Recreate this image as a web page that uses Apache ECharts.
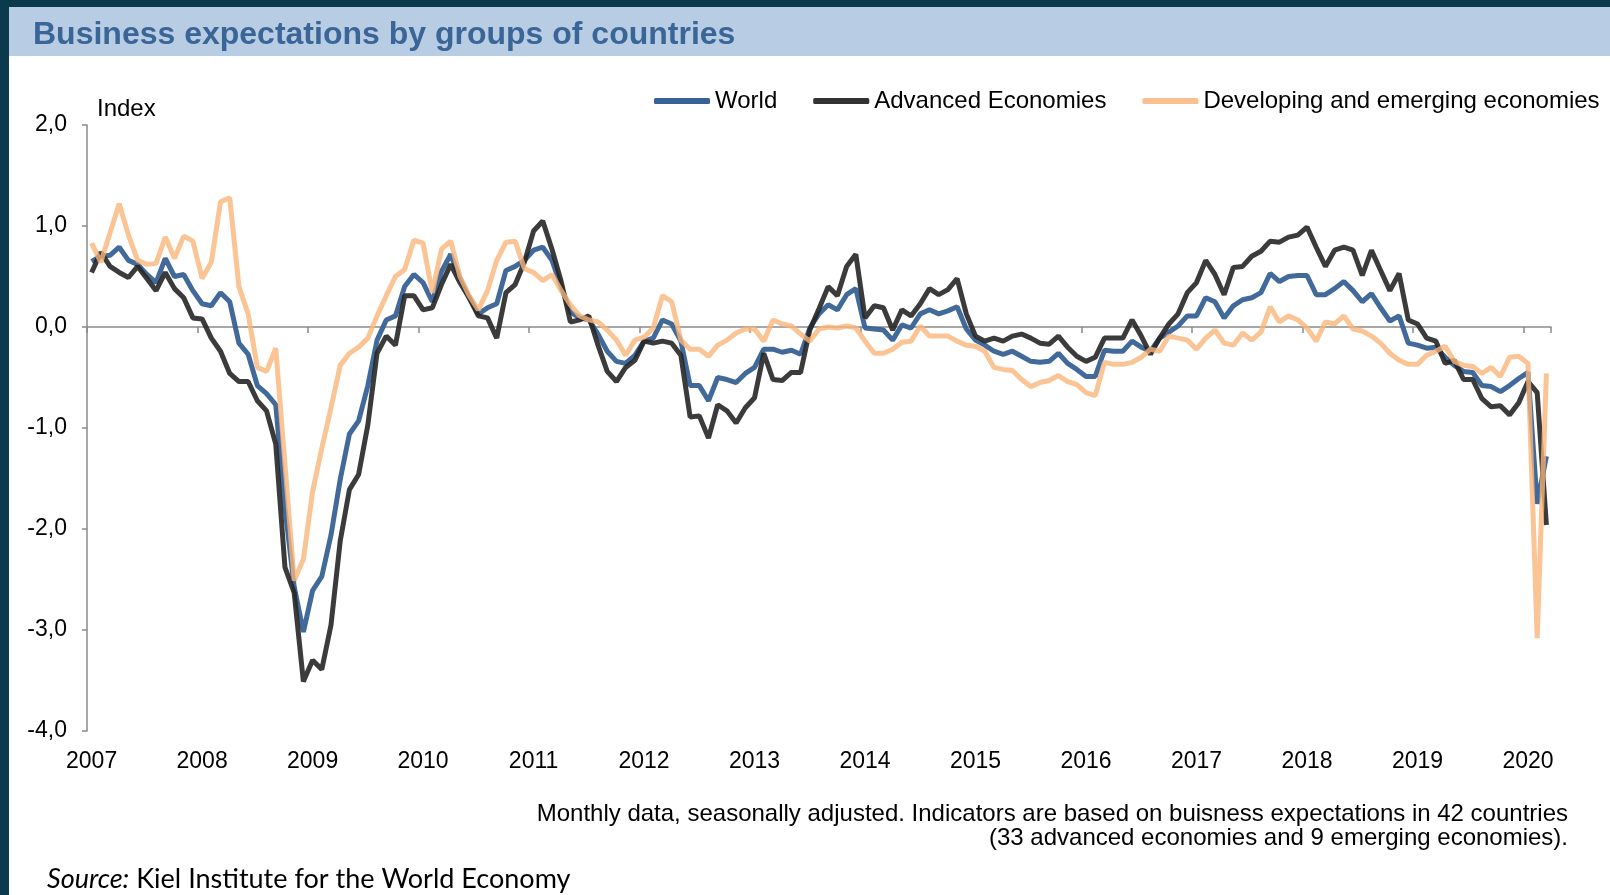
<!DOCTYPE html>
<html lang="en">

<head>
  <meta charset="utf-8">
  <title>Business expectations by groups of countries</title>
  <script src="https://cdn.jsdelivr.net/npm/echarts@6/dist/echarts.min.js"></script>
  <style>
    html, body {
      margin: 0;
      padding: 0;
      background: #fff;
    }

    #main {
      width: 1610px;
      height: 895px;
    }
  </style>
</head>

<body>
  <div id="main"></div>

  <script>
    // monthly categories, Jan 2007 .. Mar 2020
    var months = [];
    for (var y = 2007; y <= 2020; y++) {
      for (var m = 1; m <= 12; m++) {
        if (y === 2020 && m > 3) break;
        months.push(y + '-' + (m < 10 ? '0' + m : m));
      }
    }

    var yTicks = [-4, -3, -2, -1, 0, 1, 2];

    var world = [
      0.65, 0.70, 0.71, 0.79, 0.66, 0.62, 0.52, 0.44, 0.68, 0.50, 0.52, 0.36,
      0.23, 0.21, 0.34, 0.25, -0.16, -0.27, -0.58, -0.66, -0.77, -1.79, -2.57, -3.02,
      -2.61, -2.47, -2.06, -1.51, -1.06, -0.93, -0.58, -0.13, 0.07, 0.11, 0.40, 0.52,
      0.44, 0.25, 0.55, 0.72, 0.48, 0.29, 0.13, 0.19, 0.23, 0.56, 0.60, 0.66,
      0.76, 0.79, 0.66, 0.40, 0.15, 0.09, 0.07, -0.07, -0.24, -0.34, -0.36, -0.28,
      -0.14, -0.11, 0.07, 0.03, -0.14, -0.58, -0.58, -0.73, -0.50, -0.52, -0.55, -0.46,
      -0.40, -0.22, -0.22, -0.25, -0.23, -0.27, -0.01, 0.13, 0.22, 0.17, 0.32, 0.38,
      -0.01, -0.02, -0.03, -0.13, 0.02, -0.01, 0.13, 0.17, 0.13, 0.16, 0.20, -0.02,
      -0.13, -0.18, -0.24, -0.27, -0.24, -0.29, -0.34, -0.35, -0.34, -0.26, -0.36, -0.42,
      -0.49, -0.49, -0.23, -0.24, -0.24, -0.14, -0.20, -0.24, -0.11, -0.05, 0.01, 0.11,
      0.11, 0.29, 0.25, 0.09, 0.21, 0.27, 0.29, 0.34, 0.53, 0.45, 0.50, 0.51,
      0.51, 0.32, 0.32, 0.38, 0.45, 0.36, 0.25, 0.33, 0.19, 0.06, 0.11, -0.16,
      -0.18, -0.21, -0.20, -0.30, -0.38, -0.44, -0.45, -0.58, -0.59, -0.64, -0.58, -0.51,
      -0.45, -1.75, -1.28
    ];

    var advanced = [
      0.54, 0.74, 0.60, 0.54, 0.49, 0.60, 0.48, 0.36, 0.54, 0.38, 0.29, 0.09,
      0.08, -0.11, -0.24, -0.46, -0.54, -0.54, -0.73, -0.83, -1.16, -2.38, -2.63, -3.51,
      -3.30, -3.39, -2.95, -2.12, -1.61, -1.46, -0.97, -0.26, -0.09, -0.18, 0.31, 0.31,
      0.17, 0.19, 0.42, 0.62, 0.44, 0.29, 0.11, 0.09, -0.11, 0.34, 0.42, 0.64,
      0.95, 1.05, 0.77, 0.45, 0.05, 0.07, 0.11, -0.18, -0.44, -0.54, -0.40, -0.33,
      -0.14, -0.16, -0.14, -0.16, -0.28, -0.89, -0.88, -1.10, -0.77, -0.83, -0.95, -0.80,
      -0.70, -0.26, -0.52, -0.53, -0.45, -0.45, -0.03, 0.18, 0.40, 0.31, 0.60, 0.72,
      0.09, 0.21, 0.19, -0.03, 0.17, 0.11, 0.23, 0.38, 0.32, 0.37, 0.48, 0.13,
      -0.09, -0.14, -0.11, -0.14, -0.09, -0.07, -0.11, -0.16, -0.17, -0.09, -0.20, -0.29,
      -0.34, -0.30, -0.11, -0.11, -0.11, 0.07, -0.09, -0.27, -0.11, 0.03, 0.13, 0.34,
      0.44, 0.66, 0.52, 0.32, 0.59, 0.60, 0.70, 0.75, 0.85, 0.84, 0.89, 0.91,
      0.99, 0.79, 0.60, 0.76, 0.79, 0.76, 0.51, 0.76, 0.56, 0.36, 0.53, 0.07,
      0.03, -0.11, -0.14, -0.36, -0.33, -0.52, -0.52, -0.71, -0.79, -0.78, -0.87, -0.75,
      -0.54, -0.65, -1.96
    ];

    var developing = [
      0.83, 0.64, 0.93, 1.22, 0.91, 0.66, 0.62, 0.63, 0.89, 0.68, 0.90, 0.85,
      0.48, 0.64, 1.24, 1.28, 0.40, 0.13, -0.40, -0.44, -0.21, -1.36, -2.51, -2.30,
      -1.63, -1.20, -0.80, -0.38, -0.26, -0.20, -0.11, 0.11, 0.31, 0.50, 0.57, 0.86,
      0.83, 0.34, 0.77, 0.85, 0.50, 0.31, 0.17, 0.36, 0.66, 0.84, 0.85, 0.58,
      0.54, 0.46, 0.52, 0.36, 0.22, 0.11, 0.07, 0.05, -0.03, -0.13, -0.28, -0.13,
      -0.10, -0.01, 0.31, 0.25, -0.13, -0.22, -0.22, -0.29, -0.18, -0.13, -0.06, -0.02,
      -0.02, -0.14, 0.07, 0.03, 0.01, -0.07, -0.14, -0.02, 0.00, -0.01, 0.01, -0.01,
      -0.14, -0.26, -0.26, -0.22, -0.15, -0.14, 0.01, -0.09, -0.09, -0.09, -0.14, -0.18,
      -0.19, -0.24, -0.40, -0.42, -0.43, -0.52, -0.59, -0.55, -0.53, -0.48, -0.54, -0.57,
      -0.65, -0.68, -0.35, -0.37, -0.37, -0.35, -0.30, -0.22, -0.24, -0.09, -0.11, -0.13,
      -0.22, -0.11, -0.03, -0.16, -0.18, -0.06, -0.13, -0.05, 0.20, 0.05, 0.11, 0.07,
      -0.01, -0.14, 0.05, 0.03, 0.11, -0.02, -0.04, -0.09, -0.16, -0.26, -0.33, -0.37,
      -0.37, -0.28, -0.24, -0.19, -0.34, -0.38, -0.39, -0.46, -0.40, -0.49, -0.30, -0.29,
      -0.36, -3.08, -0.46
    ];

    var FONT = "'Liberation Sans', Arial, sans-serif";
    var yearTick = function(index) {
      return index % 12 === 0;
    };

    var myChart = echarts.init(document.getElementById('main'));

    var option = {
      animation: false,
      backgroundColor: '#fff',
      textStyle: { fontFamily: FONT },
      grid: {
        left: 87,
        right: 59,
        top: 125,
        bottom: 164,
        containLabel: false
      },
      legend: {
        left: 654,
        top: 89,
        padding: 0,
        icon: 'roundRect',
        itemWidth: 56,
        itemHeight: 6,
        itemGap: 36,
        textStyle: { fontSize: 24, color: '#000', fontFamily: FONT },
        data: ['World', 'Advanced Economies', 'Developing and emerging economies']
      },
      xAxis: [{
        // labels only, at the bottom
        type: 'category',
        data: months,
        position: 'bottom',
        axisLine: { show: false, onZero: false },
        axisTick: { show: false },
        splitLine: { show: false },
        axisLabel: {
          interval: yearTick,
          formatter: function(v) { return v.slice(0, 4); },
          fontSize: 23,
          color: '#000',
          margin: 19,
          fontFamily: FONT
        }
      }, {
        // zero line with year ticks
        type: 'category',
        data: months,
        position: 'top',
        axisLine: { show: true, onZero: true, lineStyle: { color: '#8a8a8a', width: 1.5 } },
        axisTick: { show: true, interval: yearTick, inside: true, length: 6, lineStyle: { color: '#8a8a8a', width: 1.5 } },
        axisLabel: { show: false },
        splitLine: { show: false }
      }],
      yAxis: {
        type: 'value',
        min: yTicks[0],
        max: yTicks[yTicks.length - 1],
        interval: 1,
        axisLine: { show: true, lineStyle: { color: '#8a8a8a', width: 1.5 } },
        axisTick: { show: true, length: 5, lineStyle: { color: '#8a8a8a', width: 1.5 } },
        splitLine: { show: false },
        axisLabel: {
          fontSize: 23,
          color: '#000',
          margin: 20,
          fontFamily: FONT,
          formatter: function(v) { return v.toFixed(1).replace('.', ','); }
        }
      },
      series: [{
        name: 'World',
        type: 'line',
        data: world,
        symbol: 'none',
        itemStyle: { color: '#376295' },
        lineStyle: { width: 5, color: '#376295', opacity: 0.95 }
      }, {
        name: 'Advanced Economies',
        type: 'line',
        data: advanced,
        symbol: 'none',
        itemStyle: { color: '#333333' },
        lineStyle: { width: 5, color: '#262626', opacity: 0.9 }
      }, {
        name: 'Developing and emerging economies',
        type: 'line',
        data: developing,
        symbol: 'none',
        itemStyle: { color: '#fac08f' },
        lineStyle: { width: 5, color: '#f9b57a', opacity: 0.8 }
      }],
      graphic: [
        // dark frame
        { type: 'rect', left: 0, top: 0, shape: { width: 1610, height: 7 }, style: { fill: '#0b3a4c' }, silent: true },
        { type: 'rect', left: 0, top: 0, shape: { width: 9, height: 895 }, style: { fill: '#0b3a4c' }, silent: true },
        // header band
        { type: 'rect', left: 9, top: 7, shape: { width: 1601, height: 49 }, style: { fill: '#b8cce4' }, silent: true },
        {
          type: 'text', x: 33, y: 35,
          style: { text: 'Business expectations by groups of countries', font: 'bold 32px ' + FONT, fill: '#3a6597', verticalAlign: 'middle' }
        },
        {
          type: 'text', x: 97, y: 109,
          style: { text: 'Index', font: '24px ' + FONT, fill: '#000', verticalAlign: 'middle' }
        },
        {
          type: 'text', x: 1568, y: 814,
          style: {
            text: 'Monthly data, seasonally adjusted. Indicators are based on buisness expectations in 42 countries',
            font: '24px ' + FONT, fill: '#000', align: 'right', verticalAlign: 'middle'
          }
        },
        {
          type: 'text', x: 1568, y: 838,
          style: {
            text: '(33 advanced economies and 9 emerging economies).',
            font: '24px ' + FONT, fill: '#000', align: 'right', verticalAlign: 'middle'
          }
        },
        {
          type: 'text', x: 47, y: 879,
          style: {
            text: '{i|Source:} Kiel Institute for the World Economy',
            font: '27px Lato, sans-serif',
            fill: '#000',
            verticalAlign: 'middle',
            rich: { i: { fontStyle: 'italic', fontSize: 27, fontFamily: 'Lato, sans-serif' } }
          }
        }
      ]
    };

    myChart.setOption(option);
  </script>
</body>

</html>
